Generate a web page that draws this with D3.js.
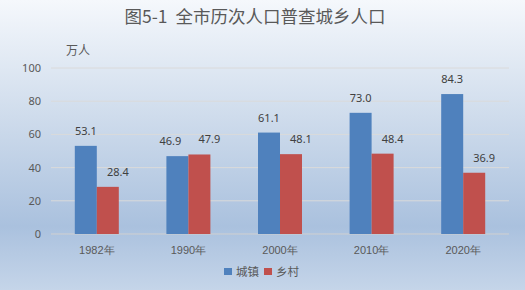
<!DOCTYPE html>
<html>
<head>
<meta charset="utf-8">
<script src="https://cdn.jsdelivr.net/npm/d3@7"></script>
<style>
  body { margin: 0; }
  svg { display: block; font-family: "Noto Sans CJK SC", "Microsoft YaHei", sans-serif; }
</style>
</head>
<body>
<div id="chart"></div>
<script>
var years = ["1982年", "1990年", "2000年", "2010年", "2020年"];
var urban = [53.1, 46.9, 61.1, 73.0, 84.3];
var rural = [28.4, 47.9, 48.1, 48.4, 36.9];
var seriesNames = ["城镇", "乡村"];
var seriesColors = ["#4f81bd", "#c0504d"];
var yTicks = [0, 20, 40, 60, 80, 100];

var W = 525, H = 290;
var margin = {top: 68, right: 16, bottom: 56, left: 51},
    width = W - margin.left - margin.right,
    height = H - margin.top - margin.bottom;

var svg = d3.select("#chart").append("svg")
    .attr("width", W)
    .attr("height", H);

var grad = svg.append("defs").append("linearGradient")
    .attr("id", "bg").attr("x1", 0).attr("y1", 0).attr("x2", 0).attr("y2", 1);
grad.append("stop").attr("offset", "0%").attr("stop-color", "#f5f8fc");
grad.append("stop").attr("offset", "40%").attr("stop-color", "#cfdcec");
grad.append("stop").attr("offset", "78%").attr("stop-color", "#aac1de");
grad.append("stop").attr("offset", "100%").attr("stop-color", "#c5d5e9");

svg.append("rect").attr("width", W).attr("height", H).attr("fill", "url(#bg)");

svg.append("text")
    .attr("x", 255).attr("y", 23)
    .attr("text-anchor", "middle")
    .attr("font-size", 17.5)
    .attr("fill", "#595959")
    .style("white-space", "pre")
    .text("图5-1  全市历次人口普查城乡人口");

var g = svg.append("g")
    .attr("transform", "translate(" + margin.left + "," + margin.top + ")");

var x = d3.scaleBand().domain(years).range([0, width]);
var y = d3.scaleLinear().domain([0, 100]).range([height, 0]);

// gridlines
g.selectAll(".grid").data(yTicks).enter().append("line")
    .attr("x1", 0).attr("x2", width)
    .attr("y1", function(d) { return y(d); })
    .attr("y2", function(d) { return y(d); })
    .attr("stroke", function(d) { return d === 0 ? "#d0d0d0" : "#dadada"; })
    .attr("stroke-width", 1);

var yAxis = g.append("g")
    .call(d3.axisLeft(y).tickValues(yTicks).tickSize(0).tickPadding(10));
yAxis.select(".domain").remove();
yAxis.selectAll("text").attr("font-size", 11).attr("fill", "#595959")
    .style("font-family", "'Noto Sans', sans-serif");

var xAxis = g.append("g")
    .attr("transform", "translate(0," + height + ")")
    .call(d3.axisBottom(x).tickSize(0).tickPadding(12));
xAxis.select(".domain").remove();
xAxis.selectAll("text").attr("font-size", 11).attr("fill", "#595959");

g.append("text")
    .attr("x", 15).attr("y", -13)
    .attr("font-size", 12)
    .attr("fill", "#595959")
    .text("万人");

var barW = 22;
var series = [urban, rural];
// label nudges as placed in the original (rural labels sit right of their bar)
function labelShift(si, i) {
  if (si === 1) return 10;
  return i === 1 ? -7 : 0;
}
series.forEach(function(vals, si) {
  var off = si === 0 ? -barW : 0;
  g.selectAll(".bar" + si).data(vals).enter().append("rect")
      .attr("x", function(d, i) { return x(years[i]) + x.bandwidth() / 2 + off; })
      .attr("y", function(d) { return y(d); })
      .attr("width", barW)
      .attr("height", function(d) { return height - y(d); })
      .attr("fill", seriesColors[si]);
  g.selectAll(".lab" + si).data(vals).enter().append("text")
      .attr("x", function(d, i) { return x(years[i]) + x.bandwidth() / 2 + off + barW / 2 + labelShift(si, i); })
      .attr("y", function(d) { return y(d) - 11; })
      .attr("text-anchor", "middle")
      .attr("font-size", 11)
      .attr("fill", "#404040")
      .style("font-family", "'Noto Sans', sans-serif")
      .text(function(d) { return d.toFixed(1); });
});

// legend
var legend = svg.append("g").attr("transform", "translate(224,268)");
var lx = [0, 40];
seriesNames.forEach(function(n, i) {
  legend.append("rect").attr("x", lx[i]).attr("y", 0).attr("width", 8).attr("height", 7)
      .attr("fill", seriesColors[i]);
  legend.append("text").attr("x", lx[i] + 12).attr("y", 8)
      .attr("font-size", 11.5).attr("fill", "#595959").text(n);
});
</script>
</body>
</html>
